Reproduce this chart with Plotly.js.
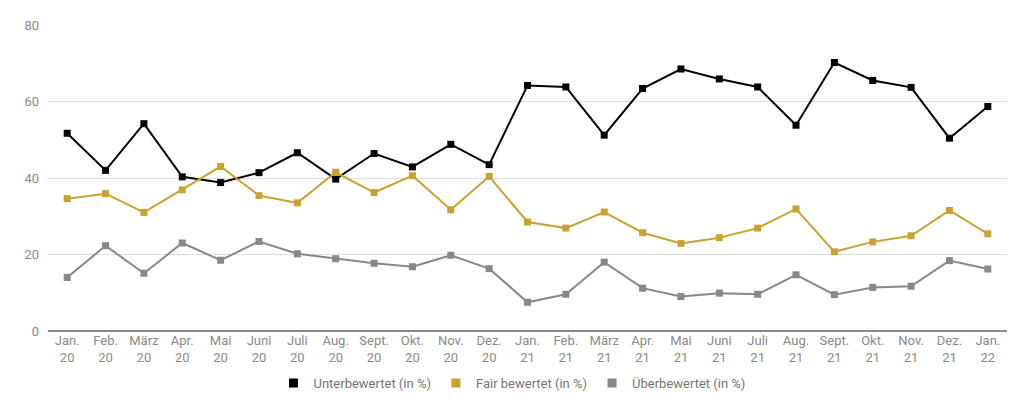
<!DOCTYPE html>
<html>
<head>
<meta charset="utf-8">
<script src="https://cdn.plot.ly/plotly-3.0.1.min.js"></script>
<style>
  html, body { margin: 0; padding: 0; background: #fff; }
  #chart { width: 1024px; height: 408px; }
</style>
</head>
<body>
<div id="chart"></div>
<script>
// Monate Jan. 20 bis Jan. 22
const monate = ['Jan.<br>20', 'Feb.<br>20', 'März<br>20', 'Apr.<br>20', 'Mai<br>20', 'Juni<br>20',
  'Juli<br>20', 'Aug.<br>20', 'Sept.<br>20', 'Okt.<br>20', 'Nov.<br>20', 'Dez.<br>20',
  'Jan.<br>21', 'Feb.<br>21', 'März<br>21', 'Apr.<br>21', 'Mai<br>21', 'Juni<br>21',
  'Juli<br>21', 'Aug.<br>21', 'Sept.<br>21', 'Okt.<br>21', 'Nov.<br>21', 'Dez.<br>21', 'Jan.<br>22'];

const unterbewertet = [51.7, 42.0, 54.2, 40.3, 38.8, 41.4, 46.6, 39.7, 46.4, 42.9, 48.8, 43.5,
  64.2, 63.8, 51.2, 63.4, 68.5, 65.9, 63.8, 53.8, 70.2, 65.5, 63.7, 50.4, 58.7];
const fairBewertet = [34.6, 35.9, 31.0, 36.9, 43.0, 35.4, 33.5, 41.5, 36.2, 40.6, 31.7, 40.4,
  28.5, 26.9, 31.1, 25.7, 22.9, 24.4, 26.9, 31.9, 20.7, 23.3, 24.9, 31.5, 25.4];
const ueberbewertet = [14.0, 22.3, 15.1, 23.0, 18.5, 23.4, 20.2, 18.9, 17.7, 16.8, 19.8, 16.3,
  7.5, 9.6, 18.0, 11.2, 9.0, 9.9, 9.6, 14.7, 9.5, 11.4, 11.7, 18.4, 16.2];

const serien = [
  { name: 'Unterbewertet (in %)', y: unterbewertet, color: '#000000' },
  { name: 'Fair bewertet (in %)', y: fairBewertet, color: '#c9a332' },
  { name: 'Überbewertet (in %)', y: ueberbewertet, color: '#888888' },
];

const xs = monate.map((m, i) => i);

const data = [];
// Linien mit Markern
serien.forEach(s => {
  data.push({
    x: xs, y: s.y,
    type: 'scatter', mode: 'lines+markers',
    line: { color: s.color, width: 2 },
    marker: { color: s.color, size: 7, symbol: 'square' },
    showlegend: false,
    hoverinfo: 'y',
  });
});
// nur für die Legende (quadratische Symbole ohne Linie)
serien.forEach(s => {
  data.push({
    x: [null], y: [null],
    type: 'scatter', mode: 'markers',
    name: s.name,
    marker: { color: s.color, size: 9, symbol: 'square' },
  });
});

const layout = {
  width: 1024, height: 408,
  margin: { l: 48, r: 17, t: 25, b: 77, pad: 0 },
  paper_bgcolor: '#fff', plot_bgcolor: '#fff',
  font: { family: 'Roboto, sans-serif', size: 13, color: '#8a8a8a' },
  xaxis: {
    range: [-0.5, 24.5],
    tickvals: xs, ticktext: monate,
    showgrid: false, zeroline: false,
    ticks: '', ticklen: 0,
    tickfont: { size: 13, color: '#8a8a8a' },
    fixedrange: true,
  },
  yaxis: {
    range: [0, 80],
    tickvals: [0, 20, 40, 60, 80],
    showgrid: true, gridcolor: '#dddddd', gridwidth: 1,
    zeroline: true, zerolinecolor: '#8c8c8c', zerolinewidth: 2,
    ticks: '', ticklabelstandoff: 8,
    tickfont: { size: 13, color: '#8a8a8a' },
    fixedrange: true,
  },
  legend: {
    orientation: 'h',
    x: 0.5, xanchor: 'center', xref: 'container',
    y: 0.061, yanchor: 'middle', yref: 'container',
    font: { size: 13, color: '#757575' },
    itemwidth: 30,
  },
  showlegend: true,
};

Plotly.newPlot('chart', data, layout, { displayModeBar: false, staticPlot: true });
</script>
</body>
</html>
